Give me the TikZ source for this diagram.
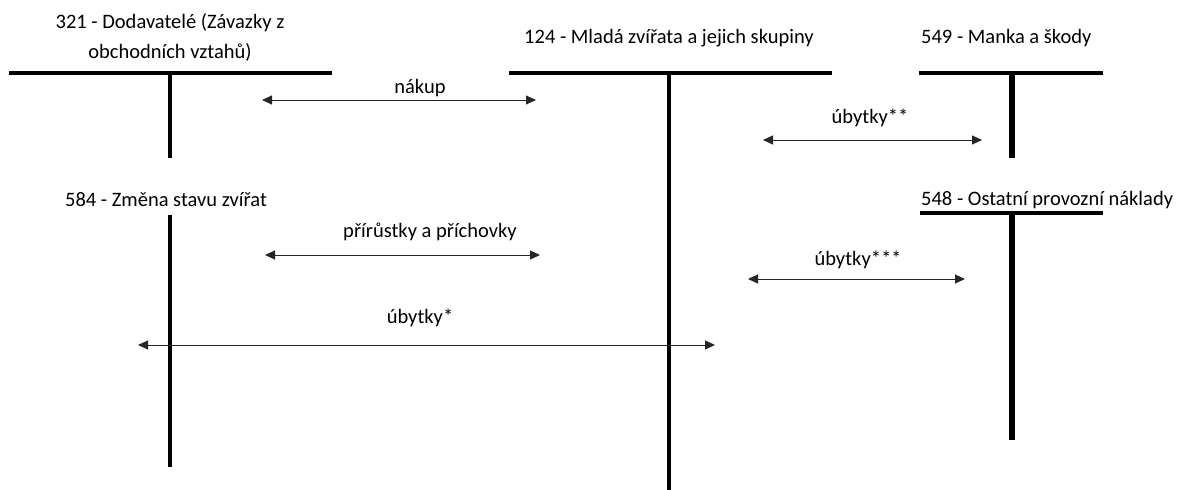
\documentclass[tikz,border=0pt]{standalone}
\usepackage{fontspec}
\setmainfont{Carlito}
\usetikzlibrary{arrows.meta}
\begin{document}
\begin{tikzpicture}[x=1pt,y=-1pt,
  lbl/.style={font=\fontsize{20.5}{30}\selectfont, inner sep=0pt, text=black},
  tline/.style={line width=3.2pt, black},
  tthick/.style={line width=5.8pt, black},
  flow/.style={line width=1pt, black!85, {Triangle[length=10pt,width=9pt]}-{Triangle[length=10pt,width=9pt]}}]
\useasboundingbox (0,0) rectangle (1181,490);
% titles
\node[lbl, align=center] (t321) at (170,37) {321 - Dodavatelé (Závazky z\\obchodních vztahů)};
\node[lbl] (t124) at (669,38) {124 - Mladá zvířata a jejich skupiny};
\node[lbl, anchor=west] (t549) at (921,38) {549 - Manka a škody};
\node[lbl] (t584) at (166,200) {584 - Změna stavu zvířat};
\node[lbl, anchor=west] (t548) at (921,200) {548 - Ostatní provozní náklady};
% T accounts
\coordinate (a1l) at (9,73); \coordinate (a1r) at (332,73);
\coordinate (a1t) at (170,73); \coordinate (a1b) at (170,158);
\draw[tline] (a1l) -- (a1r);
\draw[tline] (a1t) -- (a1b);
\coordinate (a2l) at (509,73); \coordinate (a2r) at (832,73);
\coordinate (a2t) at (669,73); \coordinate (a2b) at (669,490);
\draw[tline] (a2l) -- (a2r);
\draw[tline] (a2t) -- (a2b);
\coordinate (a3l) at (919,73); \coordinate (a3r) at (1103,73);
\coordinate (a3t) at (1012,73); \coordinate (a3b) at (1012,158);
\draw[tline] (a3l) -- (a3r);
\draw[tthick] (a3t) -- (a3b);
\coordinate (a4t) at (170,215); \coordinate (a4b) at (170,467);
\draw[tline] (a4t) -- (a4b);
\coordinate (a5l) at (920,213); \coordinate (a5r) at (1103,213);
\coordinate (a5t) at (1012,213); \coordinate (a5b) at (1012,440);
\draw[tline] (a5l) -- (a5r);
\draw[tthick] (a5t) -- (a5b);
% flows
\coordinate (n1) at (262,100); \coordinate (n2) at (536,100);
\draw[flow] (n1) -- (n2);
\node[lbl] (lnakup) at (420,88) {nákup};
\coordinate (u21) at (763,140); \coordinate (u22) at (982,140);
\draw[flow] (u21) -- (u22);
\node[lbl] (lu2) at (870,118) {úbytky**};
\coordinate (p1) at (265,255); \coordinate (p2) at (540,255);
\draw[flow] (p1) -- (p2);
\node[lbl] (lp) at (430,232) {přírůstky a příchovky};
\coordinate (u31) at (748,279); \coordinate (u32) at (965,279);
\draw[flow] (u31) -- (u32);
\node[lbl] (lu3) at (858,260) {úbytky***};
\coordinate (u11) at (138,345); \coordinate (u12) at (715,345);
\draw[flow] (u11) -- (u12);
\node[lbl] (lu1) at (420,318) {úbytky*};
\end{tikzpicture}
\end{document}
